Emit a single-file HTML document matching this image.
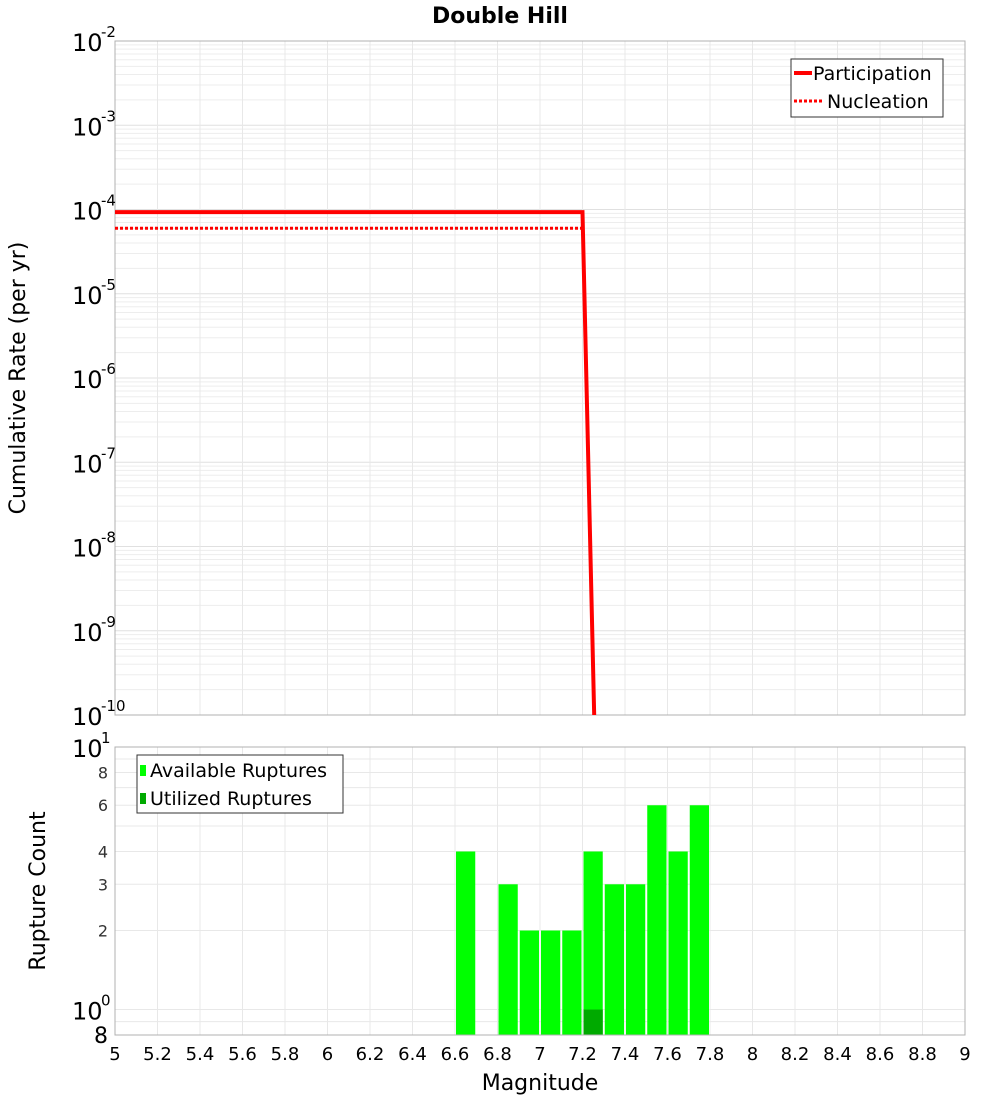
<!DOCTYPE html>
<html><head><meta charset="utf-8"><style>
body{margin:0;background:#fff;}
svg text{font-family:"DejaVu Sans","Liberation Sans",sans-serif;}
</style></head><body>
<svg id="c" width="1000" height="1100" xmlns="http://www.w3.org/2000/svg">
<text x="500" y="23" text-anchor="middle" font-size="22" font-weight="bold">Double Hill</text>
<g id="top"></g><g id="bot"></g>
</svg>
<script>
const partMag=[5,7.2,7.255];
const partRate=[9.3e-5,9.3e-5,1e-10];
const nuclMag=[5,7.2];
const nuclRate=[6.0e-5,6.0e-5];
const binStarts=[6.6,6.8,6.9,7.0,7.1,7.2,7.3,7.4,7.5,7.6,7.7];
const availCounts=[4,3,2,2,2,4,3,3,6,4,6];
const utilStarts=[7.2];
const utilCounts=[1];
const xTicks=[5,5.2,5.4,5.6,5.8,6,6.2,6.4,6.6,6.8,7,7.2,7.4,7.6,7.8,8,8.2,8.4,8.6,8.8,9];
const topExps=[-2,-3,-4,-5,-6,-7,-8,-9,-10];
const botTickVals=[2,3,4,6,8];

const NS='http://www.w3.org/2000/svg';
const svg=document.getElementById('c');
function mk(t,a,p){const e=document.createElementNS(NS,t);for(const k in a)e.setAttribute(k,a[k]);(p||svg).appendChild(e);return e;}
const X0=115,X1=965;
const xs=m=>X0+(m-5)/4*(X1-X0);
const T0=41,T1=715;
const yT=v=>T0+(-2-Math.log10(v))/8*(T1-T0);
const B0=747,B1=1035;
const yB=v=>B1-(Math.log10(v)-Math.log10(0.8))/(1-Math.log10(0.8))*(B1-B0);
const gTop=document.getElementById('top'),gBot=document.getElementById('bot');

for(let e=-10;e<-2;e++){for(let k=1;k<10;k++){const y=yT(k*Math.pow(10,e));
const l=mk('line',{x1:X0,x2:X1,y1:y,y2:y,stroke:k==1?'#e0e0e0':'#ededed','stroke-width':1},gTop);

}}
xTicks.forEach(t=>{[gTop,gBot].forEach((g,i)=>{const l=mk('line',{x1:xs(t),x2:xs(t),y1:i?B0:T0,y2:i?B1:T1,stroke:'#e8e8e8'},g);

});});
const tf=mk('rect',{x:X0,y:T0,width:X1-X0,height:T1-T0,fill:'none',stroke:'#b0b0b0'},gTop);


topExps.forEach(e=>{const y=yT(Math.pow(10,e));
const t=mk('text',{x:72,y:y+10,'font-size':24},gTop);t.textContent='10';


const s=mk('text',{x:101,y:y-4,'font-size':15},gTop);s.textContent=String(e);

});
const yt=mk('text',{x:0,y:0,'font-size':22,'text-anchor':'middle',transform:'translate(25,378) rotate(-90)'},gTop);yt.textContent='Cumulative Rate (per yr)';


function path(ms,rs){return ms.map((m,i)=>(i?'L':'M')+xs(m)+','+yT(rs[i])).join(' ');}
const pl=mk('path',{d:path(partMag,partRate),fill:'none',stroke:'#ff0000','stroke-width':4},gTop);


const nl=mk('path',{d:path(nuclMag,nuclRate),fill:'none',stroke:'#ff0000','stroke-width':3,'stroke-dasharray':'3,2'},gTop);


const lg=mk('g',{},gTop);


mk('rect',{x:791,y:59,width:152,height:58,fill:'#fff',stroke:'#333'},lg);
mk('line',{x1:794,x2:812,y1:73,y2:73,stroke:'#f00','stroke-width':4},lg);
let tt=mk('text',{x:813,y:80,'font-size':19},lg);tt.textContent='Participation';
mk('line',{x1:794,x2:822,y1:101,y2:101,stroke:'#f00','stroke-width':3,'stroke-dasharray':'3,2'},lg);
tt=mk('text',{x:827,y:108,'font-size':19},lg);tt.textContent='Nucleation';

[0.8,0.9,1,2,3,4,5,6,7,8,9,10].forEach(v=>{const y=yB(v);const l=mk('line',{x1:X0,x2:X1,y1:y,y2:y,stroke:'#e8e8e8'},gBot);

});
binStarts.forEach((s,i)=>{const r=mk('rect',{x:xs(s)+1,y:yB(availCounts[i]),width:xs(s+0.1)-xs(s)-2,height:B1-yB(availCounts[i]),fill:'#00ff00'},gBot);

});
utilStarts.forEach((s,i)=>{const r=mk('rect',{x:xs(s)+1,y:yB(utilCounts[i]),width:xs(s+0.1)-xs(s)-2,height:B1-yB(utilCounts[i]),fill:'#00aa00'},gBot);

});
const bf=mk('rect',{x:X0,y:B0,width:X1-X0,height:B1-B0,fill:'none',stroke:'#b0b0b0'},gBot);


botTickVals.forEach(v=>{const t=mk('text',{x:108,y:yB(v)+6,'font-size':16,'text-anchor':'end',fill:'#333'},gBot);t.textContent=String(v);

});
[[10,'1'],[1,'0']].forEach(([v,e])=>{const y=yB(v);const t=mk('text',{x:72,y:y+10,'font-size':24},gBot);t.textContent='10';


const s=mk('text',{x:101,y:y-4,'font-size':15},gBot);s.textContent=e;

});
let b8=mk('text',{x:94,y:1043,'font-size':22},gBot);b8.textContent='8';


const yb=mk('text',{x:0,y:0,'font-size':22,'text-anchor':'middle',transform:'translate(45,891) rotate(-90)'},gBot);yb.textContent='Rupture Count';


xTicks.forEach(t=>{const e=mk('text',{x:xs(t),y:1060,'font-size':18,'text-anchor':'middle'},gBot);e.textContent=String(t);

});
const xt=mk('text',{x:540,y:1090,'font-size':22,'text-anchor':'middle'},gBot);xt.textContent='Magnitude';


const lb=mk('g',{},gBot);


mk('rect',{x:137,y:755,width:206,height:58,fill:'#fff',stroke:'#333'},lb);
mk('rect',{x:140,y:765,width:6,height:11,fill:'#00ff00'},lb);
tt=mk('text',{x:150,y:777,'font-size':19},lb);tt.textContent='Available Ruptures';
mk('rect',{x:140,y:793,width:6,height:11,fill:'#00aa00'},lb);
tt=mk('text',{x:150,y:805,'font-size':19},lb);tt.textContent='Utilized Ruptures';
</script>
</body></html>
